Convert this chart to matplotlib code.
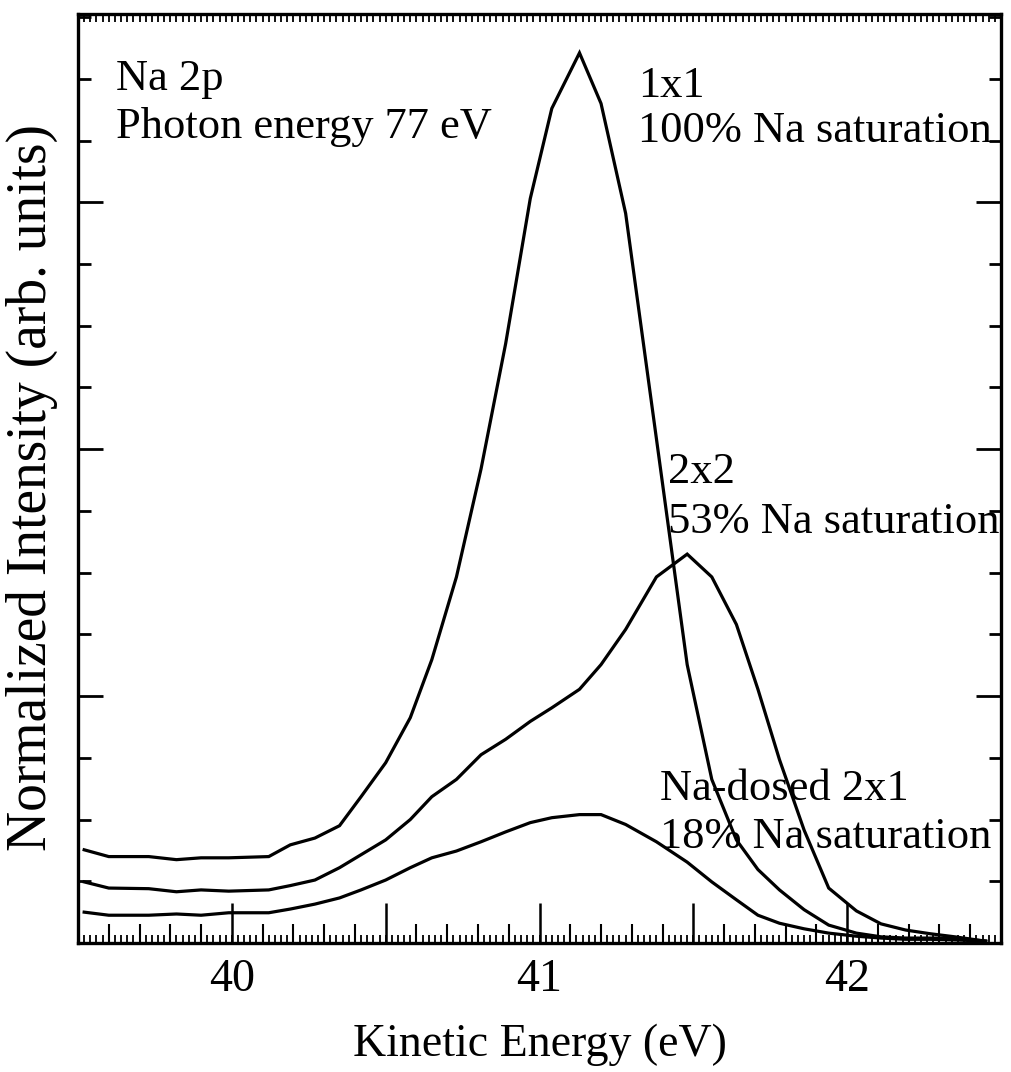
import matplotlib
matplotlib.use("Agg")
import matplotlib.pyplot as plt
from matplotlib.ticker import MultipleLocator, FuncFormatter

plt.rcParams['font.family'] = ['Liberation Serif', 'DejaVu Serif']

# ---- data ----
energy = [39.52, 39.60, 39.73, 39.82, 39.90, 39.99, 40.12, 40.19, 40.27, 40.35,
          40.42, 40.50, 40.58, 40.65, 40.73, 40.81, 40.89, 40.97, 41.04, 41.13,
          41.20, 41.28, 41.38, 41.48, 41.56, 41.64, 41.71, 41.78, 41.86, 41.94,
          42.03, 42.11, 42.19, 42.27, 42.35, 42.45]

int_1x1 = [1.51, 1.40, 1.40, 1.35, 1.38, 1.38, 1.40, 1.59, 1.70, 1.90,
           2.37, 2.92, 3.65, 4.59, 5.93, 7.68, 9.71, 12.06, 13.52, 14.42,
           13.60, 11.82, 8.17, 4.51, 2.65, 1.67, 1.19, 0.86, 0.54, 0.29,
           0.16, 0.10, 0.08, 0.08, 0.08, 0.03]

int_2x2 = [0.99, 0.89, 0.88, 0.83, 0.86, 0.84, 0.86, 0.93, 1.02, 1.22,
           1.43, 1.67, 2.00, 2.37, 2.65, 3.05, 3.30, 3.59, 3.81, 4.11,
           4.51, 5.08, 5.93, 6.30, 5.93, 5.16, 4.11, 2.97, 1.83, 0.89,
           0.52, 0.31, 0.21, 0.15, 0.10, 0.03]

int_2x1 = [0.50, 0.45, 0.45, 0.47, 0.45, 0.49, 0.49, 0.55, 0.63, 0.73,
           0.86, 1.02, 1.22, 1.38, 1.49, 1.64, 1.80, 1.95, 2.03, 2.08,
           2.08, 1.92, 1.64, 1.31, 0.99, 0.70, 0.45, 0.32, 0.23, 0.16,
           0.11, 0.08, 0.06, 0.06, 0.05, 0.03]

x_tick_labels = {40: "40", 41: "41", 42: "42"}

W, H = 1012, 1072
fig = plt.figure(figsize=(W / 100, H / 100), dpi=100)
ax = fig.add_axes([78 / W, 1 - 943 / H, 923 / W, 929 / H])

for y in (int_1x1, int_2x2, int_2x1):
    ax.plot(energy, y, color='black', lw=2.3, solid_joinstyle='miter')

ax.set_xlim(39.5, 42.5)
ax.set_ylim(0, 15.05)

for s in ax.spines.values():
    s.set_linewidth(2.4)

# x ticks: long at 0.5, medium at 0.1
ax.xaxis.set_major_locator(MultipleLocator(0.5))
ax.xaxis.set_minor_locator(MultipleLocator(0.1))
ax.xaxis.set_major_formatter(FuncFormatter(
    lambda v, p: x_tick_labels.get(int(round(v)), "") if abs(v - round(v)) < 1e-6 else ""))
ax.tick_params(axis='x', which='major', direction='in', length=29, width=1.8,
               top=True, bottom=True, labelsize=33, pad=11)
ax.tick_params(axis='x', which='minor', direction='in', length=14, width=1.5,
               top=True, bottom=True)

# y ticks: long every 4, short every 1
ax.yaxis.set_major_locator(MultipleLocator(4))
ax.yaxis.set_minor_locator(MultipleLocator(1))
ax.tick_params(axis='y', which='major', direction='in', length=18, width=2,
               left=True, right=True, labelleft=False)
ax.tick_params(axis='y', which='minor', direction='in', length=9, width=2,
               left=True, right=True)

# tiny x ticks at 0.02 on a twin axis
ax3 = ax.twiny()
ax3.set_xlim(ax.get_xlim())
ax3.xaxis.set_major_locator(MultipleLocator(0.02))
ax3.tick_params(axis='x', which='major', direction='in', length=6, width=1.3,
                top=True, bottom=True, labeltop=False, labelbottom=False)
for s in ax3.spines.values():
    s.set_visible(False)

ax.set_xlabel("Kinetic Energy (eV)", fontsize=33, labelpad=16)
ax.set_ylabel("Normalized Intensity (arb. units)", fontsize=40)
ax.yaxis.set_label_coords(-0.022, 0.49)


def ftext(px, py, s, size=32):
    fig.text(px / W, 1 - py / H, s, fontsize=size, va='baseline', ha='left')


ftext(116, 90, "Na 2p")
ftext(116, 138, "Photon energy 77 eV")
ftext(638, 97, "1x1")
ftext(638, 142, "100% Na saturation")
ftext(668, 483, "2x2")
ftext(668, 533, "53% Na saturation")
ftext(660, 800, "Na-dosed 2x1")
ftext(660, 848, "18% Na saturation")

fig.savefig("out.png", dpi=100)
